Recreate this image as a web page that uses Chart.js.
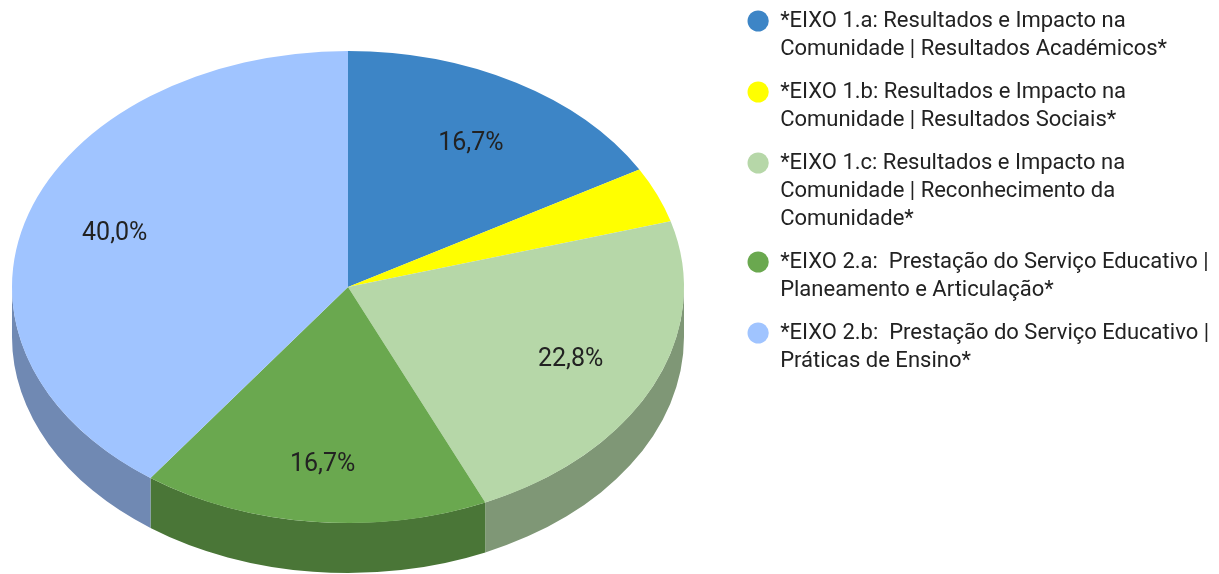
<!DOCTYPE html>
<html>
<head>
<meta charset="utf-8">
<script src="https://cdn.jsdelivr.net/npm/chart.js@4/dist/chart.umd.min.js"></script>
<style>
  body { margin: 0; background: #fff; }
</style>
</head>
<body>
<canvas id="eixoChart" width="1219" height="574"></canvas>
<script>
// legend labels, one line per array entry
let categories = [
    ['*EIXO 1.a: Resultados e Impacto na', 'Comunidade | Resultados Académicos*'],
    ['*EIXO 1.b: Resultados e Impacto na', 'Comunidade | Resultados Sociais*'],
    ['*EIXO 1.c: Resultados e Impacto na', 'Comunidade | Reconhecimento da', 'Comunidade*'],
    ['*EIXO 2.a:  Prestação do Serviço Educativo |', 'Planeamento e Articulação*'],
    ['*EIXO 2.b:  Prestação do Serviço Educativo |', 'Práticas de Ensino*']
];

// share of each axis (%)
let shares = [16.7, 3.8, 22.8, 16.7, 40.0];

let sliceColors = ['#3d85c6', '#ffff00', '#b6d7a8', '#6aa84f', '#a0c4ff'];

// fake 3d look: squash the pie and draw a darker wall under the front half
const TILT = 0.7024;
const DEPTH = 50;
const CX = 348, CY = 287, RADIUS = 336;

function shade(hex, f) {
    let n = parseInt(hex.slice(1), 16);
    let r = Math.round(((n >> 16) & 255) * f);
    let g = Math.round(((n >> 8) & 255) * f);
    let b = Math.round((n & 255) * f);
    return 'rgb(' + r + ',' + g + ',' + b + ')';
}

const pie3d = {
    id: 'pie3d',
    afterDatasetUpdate(chart) {
        chart.getDatasetMeta(0).data.forEach(arc => {
            arc.x = CX;
            arc.y = CY;
            arc.outerRadius = RADIUS;
            arc.innerRadius = 0;
        });
    },
    beforeDatasetsDraw(chart) {
        let ctx = chart.ctx;
        let arcs = chart.getDatasetMeta(0).data;
        ctx.save();
        arcs.forEach((arc, i) => {
            // only the front half (0..PI) shows its side
            let s = Math.max(arc.startAngle, 0);
            let e = Math.min(arc.endAngle, Math.PI);
            if (s >= e) return;
            ctx.beginPath();
            ctx.ellipse(arc.x, arc.y, arc.outerRadius, arc.outerRadius * TILT, 0, s, e);
            ctx.ellipse(arc.x, arc.y + DEPTH, arc.outerRadius, arc.outerRadius * TILT, 0, e, s, true);
            ctx.closePath();
            ctx.fillStyle = shade(sliceColors[i], 0.7);
            ctx.fill();
        });
        ctx.restore();

        // top face
        ctx.save();
        ctx.translate(CX, CY);
        ctx.scale(1, TILT);
        ctx.translate(-CX, -CY);
    },
    afterDatasetsDraw(chart) {
        let ctx = chart.ctx;
        ctx.restore();

        let arcs = chart.getDatasetMeta(0).data;
        let total = shares.reduce((a, b) => a + b, 0);
        ctx.save();
        ctx.font = '25px Roboto';
        ctx.fillStyle = '#222';
        ctx.textAlign = 'center';
        ctx.textBaseline = 'middle';
        arcs.forEach((arc, i) => {
            let pct = shares[i] / total * 100;
            if (pct < 5) return;
            let mid = (arc.startAngle + arc.endAngle) / 2;
            let r = arc.outerRadius * 0.73;
            // google nudges the text a little toward the front
            let dy = Math.abs(Math.sin(mid)) > 0.8 ? 6 : 0;
            ctx.fillText(pct.toFixed(1).replace('.', ',') + '%',
                arc.x + Math.cos(mid) * r,
                arc.y + Math.sin(mid) * r * TILT + dy);
        });
        ctx.restore();
    }
};

let ctx = document.getElementById('eixoChart').getContext('2d');
var chart = new Chart(ctx, {
    type: 'pie',
    data: {
        labels: categories,
        datasets: [{
            data: shares,
            backgroundColor: sliceColors,
            borderWidth: 0,
            clip: false
        }]
    },
    options: {
        responsive: false,
        animation: false,
        events: [],
        layout: {
            padding: { top: -5, right: 0 }
        },
        plugins: {
            legend: {
                display: true,
                position: 'right',
                align: 'start',
                labels: {
                    usePointStyle: true,
                    pointStyle: 'circle',
                    boxWidth: 22,
                    boxHeight: 15,
                    padding: 15,
                    color: '#222',
                    font: { family: 'Roboto', size: 22, lineHeight: '28px' }
                }
            },
            tooltip: { enabled: false }
        }
    },
    plugins: [pie3d]
});
</script>
</body>
</html>
